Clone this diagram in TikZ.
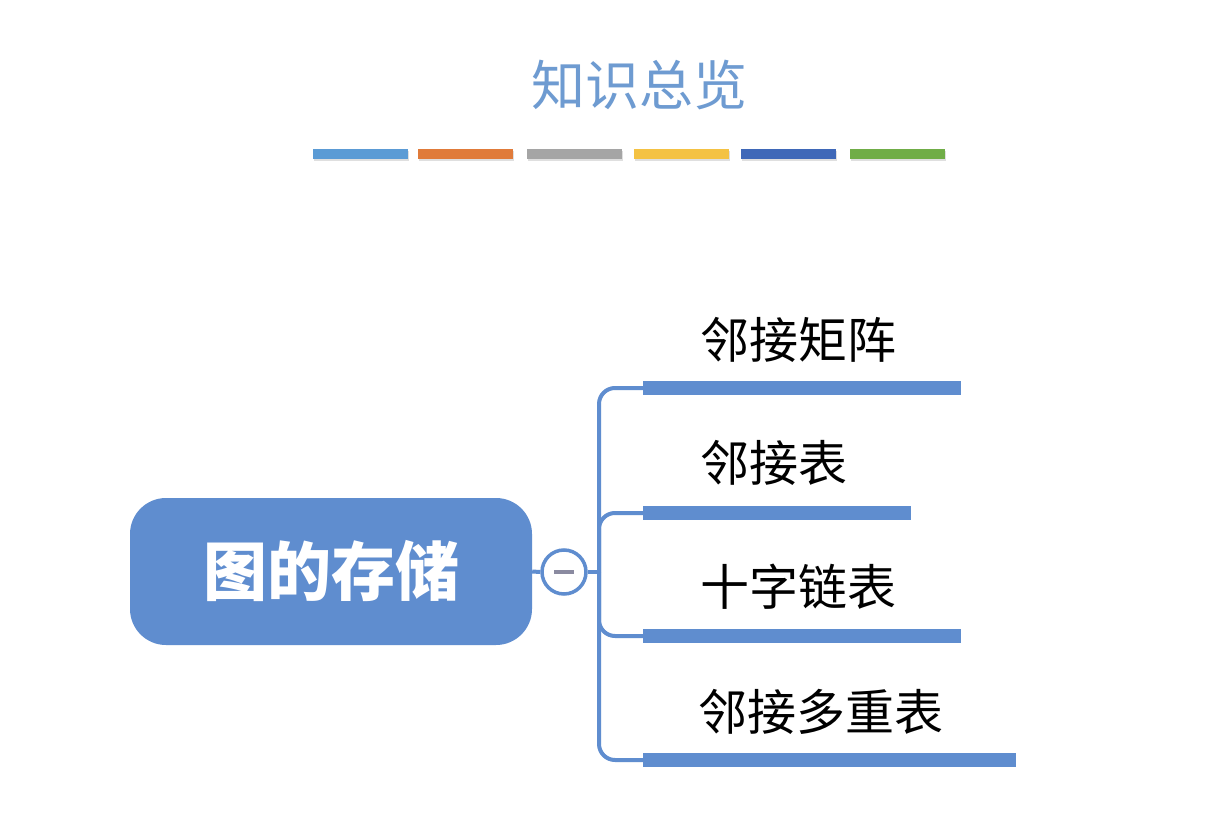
\documentclass[tikz,border=0pt]{standalone}
\usepackage{fontspec}
\newfontfamily\cjk{Noto Sans CJK SC}
\usetikzlibrary{shadows}
\definecolor{mainblue}{HTML}{5F8DCF}
\definecolor{titleblue}{HTML}{6E9BD1}
\definecolor{cA}{HTML}{5B9BD5}
\definecolor{cB}{HTML}{E07B3A}
\definecolor{cC}{HTML}{A5A5A5}
\definecolor{cD}{HTML}{F4C243}
\definecolor{cE}{HTML}{3F68B8}
\definecolor{cF}{HTML}{70AD47}
\definecolor{minusgray}{HTML}{8A8AA0}
\tikzset{
  colbar/.style={minimum width=95pt, minimum height=10pt, inner sep=0pt, drop shadow={shadow xshift=1pt, shadow yshift=-2pt, opacity=0.25}},
  conn/.style={draw=mainblue, line width=4pt, rounded corners=16pt},
  leafbar/.style={fill=mainblue, inner sep=0pt, minimum height=14pt, anchor=west},
  leaftext/.style={anchor=west, inner sep=0pt, font=\cjk\fontsize{49}{52}\selectfont, text=black},
}
\begin{document}
\begin{tikzpicture}[x=1pt,y=-1pt]
\useasboundingbox (0,0) rectangle (1206,818);
\fill[white] (0,0) rectangle (1206,818);
% title
\node[text=titleblue, font=\cjk\fontsize{54}{56}\selectfont, inner sep=0pt] (title) at (639,85) {知识总览};
% colour bars
\node[colbar, fill=cA] (b1) at (360.5,154) {};
\node[colbar, fill=cB] (b2) at (465.5,154) {};
\node[colbar, fill=cC] (b3) at (574.5,154) {};
\node[colbar, fill=cD] (b4) at (681.5,154) {};
\node[colbar, fill=cE] (b5) at (788.5,154) {};
\node[colbar, fill=cF] (b6) at (897,154) {};
% root
\node[fill=mainblue, rounded corners=36pt, minimum width=402pt, minimum height=147pt, inner sep=0pt,
      text=white, font=\cjk\bfseries\fontsize{64}{66}\selectfont] (root) at (331,571.5) {图的存储};
% collapse circle
\node[circle, draw=mainblue, line width=3.5pt, fill=white, minimum size=44pt, inner sep=0pt] (col) at (564,572) {};
\draw[minusgray, line width=4pt] ([xshift=-10pt]col.center) -- ([xshift=10pt]col.center);
\draw[mainblue, line width=4pt] (root.east) -- (col.west);
% spine
\coordinate (sp) at (599,572);
\draw[mainblue, line width=4pt] (col.east) -- (sp);
% leaf bars
\node[leafbar, minimum width=318pt] (l1) at (643,388) {};
\node[leafbar, minimum width=268pt] (l2) at (643,513) {};
\node[leafbar, minimum width=318pt] (l3) at (643,636) {};
\node[leafbar, minimum width=373pt] (l4) at (643,760) {};
% connectors
\draw[conn] (l1.west) -| (sp);
\draw[conn] (l2.west) -| (sp);
\draw[conn] (l3.west) -| (sp);
\draw[conn] (l4.west) -| (sp);
% leaf texts
\node[leaftext] (t1) at (700,340) {邻接矩阵};
\node[leaftext] (t2) at (700,463) {邻接表};
\node[leaftext] (t3) at (700,587) {十字链表};
\node[leaftext] (t4) at (698,712) {邻接多重表};
\end{tikzpicture}
\end{document}
